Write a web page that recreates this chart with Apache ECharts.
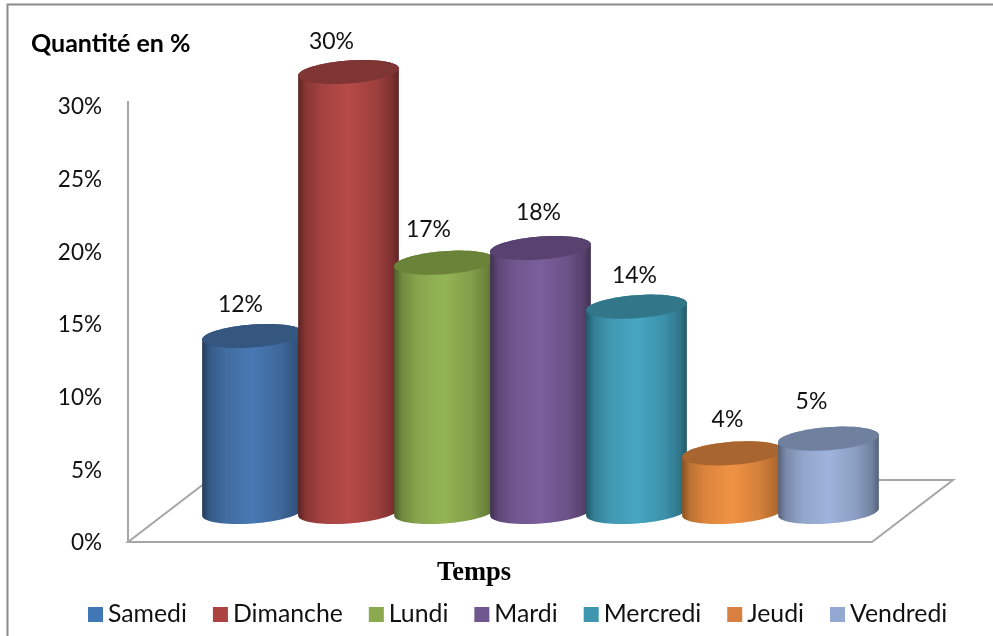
<!DOCTYPE html>
<html><head><meta charset="utf-8">
<style>html,body{margin:0;padding:0;background:#fff}#c{width:993px;height:636px}</style>
<script src="https://cdn.jsdelivr.net/npm/echarts@6/dist/echarts.min.js"></script>
</head><body><div id="c"></div>
<script>
const categories = ['Samedi','Dimanche','Lundi','Mardi','Mercredi','Jeudi','Vendredi'];
const values = [12,30,17,18,14,4,5];
const tickLabels = [0,5,10,15,20,25,30];
const bodyColors = ['#4879b3','#b54a47','#94b555','#7b5e9b','#46a6c2','#f09243','#9fb4dc'];
const edgeColors = ['#233c5a','#5e2423','#4e5f2b','#3f3050','#225868','#8a5222','#55617a'];
const topColors  = ['#34567f','#803535','#6b8339','#584270','#317689','#a96530','#6f819e'];
const legendColors = ['#4177b5','#ad4340','#8ba94e','#71578f','#3d96ae','#d98040','#93a9d2'];
const labelNudge = [[-12,-31],[-17,-30],[-16,-33],[-2,-35],[-2,-31],[-5,-34],[-17,-37]];
const FONT = 'Lato, "Open Sans", sans-serif';
const RX = 50.5, RY = 11.5, TILT = -4.3 * Math.PI / 180;

function pt(cx, cy, t){
  const c = Math.cos(t), s = Math.sin(t), ct = Math.cos(TILT), st = Math.sin(TILT);
  return [cx + RX*c*ct - RY*s*st, cy + RX*c*st + RY*s*ct];
}
function ellipse(cx, cy){
  const p = []; for (let i=0;i<72;i++) p.push(pt(cx,cy,i/72*2*Math.PI)); return p;
}
function body(cx, yTop, yBase){
  const p = [];
  for (let i=0;i<=36;i++) p.push(pt(cx,yBase,i/36*Math.PI));
  for (let i=0;i<=36;i++) p.push(pt(cx,yTop,Math.PI+i/36*Math.PI));
  return p;
}
function mix(a,b,t){
  const h=s=>[1,3,5].map(k=>parseInt(s.substr(k,2),16));
  const A=h(a),B=h(b);
  return 'rgb('+A.map((x,k)=>Math.round(x+(B[k]-x)*t)).join(',')+')';
}
function makeSeries(name, i){
  return {
    name, type:'custom', xAxisIndex:1, yAxisIndex:1, coordinateSystem:'cartesian2d',
    itemStyle:{color:legendColors[i]},
    encode:{x:0,y:1},
    data:[[i, values[i]]],
    renderItem(params, api){
      const idx = api.value(0), v = api.value(1);
      const top = api.coord([idx, v]), base = api.coord([idx, 0]);
      const e = edgeColors[i], b = bodyColors[i];
      const fill = new echarts.graphic.LinearGradient(0,0,1,0,[
        {offset:0,color:e},{offset:0.08,color:mix(e,b,0.5)},
        {offset:0.24,color:mix(e,b,0.82)},{offset:0.5,color:b},
        {offset:0.78,color:mix(e,b,0.72)},{offset:0.93,color:mix(e,b,0.38)},{offset:1,color:e}]);
      return {type:'group',children:[
        {type:'polygon',shape:{points:body(top[0],top[1],base[1])},style:{fill}},
        {type:'polygon',shape:{points:ellipse(top[0],top[1])},style:{fill:topColors[i]}},
        {type:'text',x:top[0]+labelNudge[i][0],y:top[1]+labelNudge[i][1],
         style:{text:v+'%',font:'23px '+FONT,fill:'#111',align:'center',verticalAlign:'middle'}}
      ]};
    }
  };
}
const chart = echarts.init(document.getElementById('c'),null,{renderer:'canvas'});
chart.setOption({
  animation:false,
  backgroundColor:'#fff',
  title:[
    {text:'Quantité en %',left:31,top:31,textStyle:{fontFamily:FONT,fontWeight:'bold',fontSize:25,color:'#000'},padding:0},
    {text:'Temps',left:437,top:560,textStyle:{fontFamily:'"Liberation Serif",serif',fontWeight:'bold',fontSize:26.5,color:'#000'},padding:0}
  ],
  legend:{
    data:categories,left:88,top:602,itemWidth:15,itemHeight:15,itemGap:26,padding:0,icon:'rect',
    textStyle:{fontFamily:FONT,fontSize:24.8,color:'#111'}
  },
  grid:[
    {left:128,top:107,width:742,height:436},
    {left:204.5,top:72,width:672,height:440}
  ],
  xAxis:[
    {type:'category',gridIndex:0,show:false,data:categories},
    {type:'category',gridIndex:1,show:false,data:categories}
  ],
  yAxis:[
    {type:'value',gridIndex:0,min:tickLabels[0],max:tickLabels[tickLabels.length-1],interval:5,
     axisLine:{show:false},axisTick:{show:false},splitLine:{show:false},
     axisLabel:{formatter:'{value}%',margin:26,fontFamily:FONT,fontSize:22.5,color:'#111'}},
    {type:'value',gridIndex:1,show:false,min:0,max:30,splitLine:{show:false}}
  ],
  graphic:[
    {type:'polyline',z:-1,shape:{points:[[7.5,640],[7.5,4.5],[995,4.5]]},style:{fill:'none',stroke:'#8c8c8c',lineWidth:2}},
    {type:'polygon',z:0,shape:{points:[[128,542],[872,542],[953,480],[209,480]]},style:{fill:'#fff',stroke:'#a6a6a6',lineWidth:2}},
    {type:'line',z:0,shape:{x1:128,y1:101,x2:128,y2:542},style:{stroke:'#a6a6a6',lineWidth:2}}
  ],
  series:categories.map(makeSeries)
});
</script></body></html>
